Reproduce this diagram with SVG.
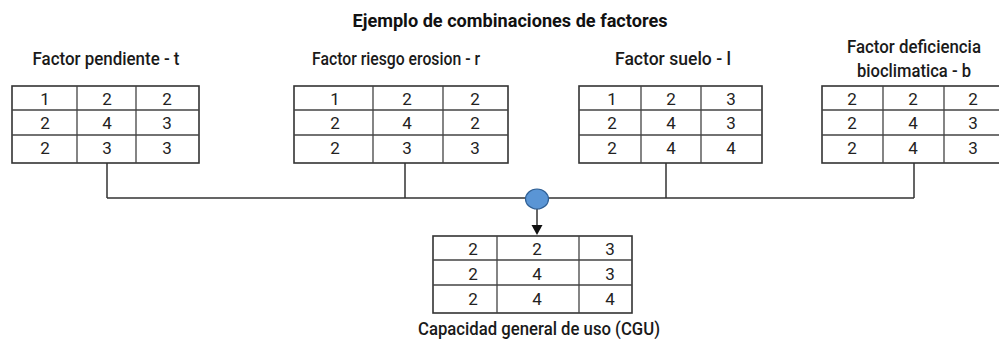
<svg xmlns="http://www.w3.org/2000/svg" width="999" height="339" viewBox="0 0 999 339">
<style>
.bg{fill:#fff}
.tb{fill:#fff;stroke:#333;stroke-width:1.6}
.gl{stroke:#444;stroke-width:1.3;fill:none}
.num{font-family:Roboto,"Liberation Sans",sans-serif;font-size:17px;fill:#222;text-anchor:middle}
.lbl{font-family:Roboto,"Liberation Sans",sans-serif;font-size:18px;font-weight:500;fill:#1a1a1a;text-anchor:middle}
.title{font-family:Roboto,"Liberation Sans",sans-serif;font-size:19px;font-weight:bold;fill:#111;text-anchor:middle}
.con{stroke:#333;stroke-width:1.5;fill:none}
</style>
<rect class="bg" x="0" y="0" width="999" height="339"/>
<text class="title" x="510" y="27" textLength="315" lengthAdjust="spacingAndGlyphs">Ejemplo de combinaciones de factores</text>

<g id="connectors">
<path class="con" d="M107,163 V198 M405,163 V198 M666,163 V198 M914,163 V198 M107,198 H914"/>
<path class="con" d="M537,209 V226"/>
<path d="M531.5,225 L542.5,225 L537,235 Z" fill="#111"/>
<ellipse id="junction" cx="537" cy="199" rx="11.5" ry="10" fill="#5a95d5" stroke="#2f5f94" stroke-width="1.2"/>
</g>

<g id="factor-t">
<text class="lbl" x="106" y="65" textLength="147" lengthAdjust="spacingAndGlyphs">Factor pendiente - t</text>
<rect class="tb" x="12" y="86" width="187" height="77"/>
<path class="gl" d="M12,110 H199 M12,135 H199 M77,86 V163 M136,86 V163"/>
<text class="num" x="45" y="105">1</text><text class="num" x="107" y="105">2</text><text class="num" x="167" y="105">2</text>
<text class="num" x="45" y="129">2</text><text class="num" x="107" y="129">4</text><text class="num" x="167" y="129">3</text>
<text class="num" x="45" y="154">2</text><text class="num" x="107" y="154">3</text><text class="num" x="167" y="154">3</text>
</g>

<g id="factor-r">
<text class="lbl" x="396" y="65" textLength="168" lengthAdjust="spacingAndGlyphs">Factor riesgo erosion - r</text>
<rect class="tb" x="294" y="86" width="214" height="77"/>
<path class="gl" d="M294,110 H508 M294,135 H508 M373,86 V163 M443,86 V163"/>
<text class="num" x="335" y="105">1</text><text class="num" x="407" y="105">2</text><text class="num" x="475" y="105">2</text>
<text class="num" x="335" y="129">2</text><text class="num" x="407" y="129">4</text><text class="num" x="475" y="129">2</text>
<text class="num" x="335" y="154">2</text><text class="num" x="407" y="154">3</text><text class="num" x="475" y="154">3</text>
</g>

<g id="factor-l">
<text class="lbl" x="673" y="65" textLength="116" lengthAdjust="spacingAndGlyphs">Factor suelo - l</text>
<rect class="tb" x="579" y="86" width="183" height="77"/>
<path class="gl" d="M579,110 H762 M579,135 H762 M641,86 V163 M701,86 V163"/>
<text class="num" x="612" y="105">1</text><text class="num" x="671" y="105">2</text><text class="num" x="731" y="105">3</text>
<text class="num" x="612" y="129">2</text><text class="num" x="671" y="129">4</text><text class="num" x="731" y="129">3</text>
<text class="num" x="612" y="154">2</text><text class="num" x="671" y="154">4</text><text class="num" x="731" y="154">4</text>
</g>

<g id="factor-b">
<text class="lbl" x="914" y="53" textLength="134" lengthAdjust="spacingAndGlyphs">Factor deficiencia</text>
<text class="lbl" x="914" y="77" textLength="114" lengthAdjust="spacingAndGlyphs">bioclimatica - b</text>
<rect class="tb" x="822" y="86" width="182" height="77"/>
<path class="gl" d="M822,110 H1004 M822,135 H1004 M883,86 V163 M944,86 V163"/>
<text class="num" x="852" y="105">2</text><text class="num" x="913" y="105">2</text><text class="num" x="973" y="105">2</text>
<text class="num" x="852" y="129">2</text><text class="num" x="913" y="129">4</text><text class="num" x="973" y="129">3</text>
<text class="num" x="852" y="154">2</text><text class="num" x="913" y="154">4</text><text class="num" x="973" y="154">3</text>
</g>

<g id="cgu">
<rect class="tb" x="433" y="236" width="199" height="77"/>
<path class="gl" d="M433,260 H632 M433,285 H632 M497,236 V313 M579,236 V313"/>
<text class="num" x="473" y="255">2</text><text class="num" x="537" y="255">2</text><text class="num" x="610" y="255">3</text>
<text class="num" x="473" y="280">2</text><text class="num" x="537" y="280">4</text><text class="num" x="610" y="280">3</text>
<text class="num" x="473" y="305">2</text><text class="num" x="537" y="305">4</text><text class="num" x="610" y="305">4</text>
<text class="lbl" x="539" y="335" textLength="242" lengthAdjust="spacingAndGlyphs">Capacidad general de uso (CGU)</text>
</g>
</svg>
